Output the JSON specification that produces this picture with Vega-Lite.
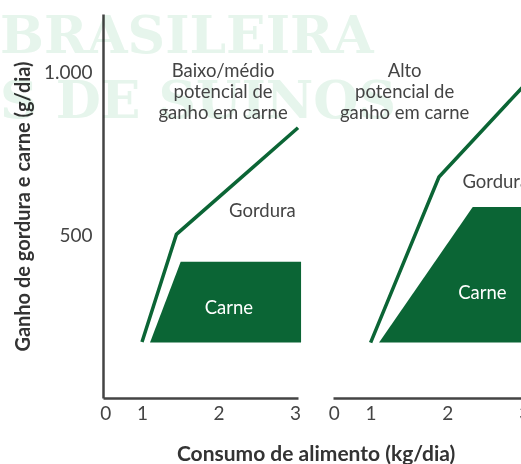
{
  "$schema": "https://vega.github.io/schema/vega-lite/v6.json",
  "padding": {"left": 0, "top": 11, "right": 0, "bottom": 0},
  "autosize": {"type": "pad"},
  "background": "white",
  "config": {
    "font": "Lato",
    "view": {"stroke": null},
    "axis": {
      "grid": false, "ticks": false, "domainColor": "#444", "domainWidth": 2.5,
      "labelColor": "#444", "labelFont": "Lato", "labelFontSize": 19,
      "titleFont": "Lato", "titleFontSize": 20, "titleFontWeight": "bold", "titleColor": "#333",
      "zindex": 1, "labelFlush": false
    }
  },
  "title": {"text": "Consumo de alimento (kg/dia)", "orient": "bottom", "anchor": "middle", "frame": "bounds", "dx": 49, "fontSize": 21, "fontWeight": "bold", "font": "Lato", "color": "#333", "offset": 21},
  "spacing": 35,
  "bounds": "flush",
  "datasets": {
    "marca_dagua": [
      {"x": -0.856, "y": 1058, "t": "BRASILEIRA"},
      {"x": -0.856, "y": 859, "t": "S DE SUINOS"}
    ],
    "linha_baixo": [
      {"x": 1.0, "y": 172},
      {"x": 1.45, "y": 502},
      {"x": 3.04, "y": 829}
    ],
    "carne_baixo": [
      {"x": 1.105, "y": 170},
      {"x": 1.506, "y": 418},
      {"x": 3.08, "y": 418}
    ],
    "linha_alto": [
      {"x": 1.0, "y": 170},
      {"x": 1.89, "y": 678},
      {"x": 3.04, "y": 969}
    ],
    "carne_alto": [
      {"x": 1.11, "y": 170},
      {"x": 2.33, "y": 586},
      {"x": 3.08, "y": 586}
    ],
    "texto_baixo": [
      {"x": 2.06, "y": 986, "t": "Baixo/médio"},
      {"x": 2.06, "y": 921, "t": "potencial de"},
      {"x": 2.06, "y": 855, "t": "ganho em carne"},
      {"x": 2.575, "y": 555, "t": "Gordura"}
    ],
    "texto_alto": [
      {"x": 1.443, "y": 986, "t": "Alto"},
      {"x": 1.443, "y": 921, "t": "potencial de"},
      {"x": 1.443, "y": 855, "t": "ganho em carne"},
      {"x": 2.63, "y": 645, "t": "Gordura"}
    ],
    "rotulo_carne_baixo": [{"x": 2.137, "y": 259, "t": "Carne"}],
    "rotulo_carne_alto": [{"x": 2.455, "y": 303, "t": "Carne"}]
  },
  "hconcat": [
    {
      "width": 195,
      "height": 384,
      "encoding": {
        "x": {"field": "x", "type": "quantitative", "scale": {"domain": [0.49, 3.04], "nice": false, "zero": false},
              "axis": {"values": [0.52, 1, 2, 3], "labelExpr": "datum.value < 0.9 ? '0' : format(datum.value, 'd')", "title": null, "labelPadding": 6}},
        "y": {"field": "y", "type": "quantitative", "scale": {"domain": [0, 1178], "nice": false},
              "axis": {"values": [500, 1000], "labelExpr": "replace(datum.label, ',', '.')", "title": "Ganho de gordura e carne (g/dia)", "labelPadding": 11, "titlePadding": 10}}
      },
      "layer": [
        {"data": {"name": "marca_dagua"}, "mark": {"type": "text", "align": "left", "baseline": "alphabetic", "font": "DejaVu Serif", "fontWeight": "bold", "fontSize": 52, "color": "#e6f5ec", "blend": "multiply"},
         "encoding": {"text": {"field": "t"}}},
        {"data": {"name": "carne_baixo"}, "mark": {"type": "area", "color": "#0b6535", "interpolate": "linear"},
         "encoding": {"y2": {"datum": 170}}},
        {"data": {"name": "linha_baixo"}, "mark": {"type": "line", "color": "#0b6535", "strokeWidth": 3.5}},
        {"data": {"name": "texto_baixo"}, "mark": {"type": "text", "align": "center", "baseline": "alphabetic", "fontSize": 18.5, "color": "#444", "font": "Lato"},
         "encoding": {"text": {"field": "t"}}},
        {"data": {"name": "rotulo_carne_baixo"}, "mark": {"type": "text", "align": "center", "baseline": "alphabetic", "fontSize": 18.5, "color": "white", "font": "Lato"},
         "encoding": {"text": {"field": "t"}}}
      ]
    },
    {
      "width": 195,
      "height": 384,
      "encoding": {
        "x": {"field": "x", "type": "quantitative", "scale": {"domain": [0.51, 3.05], "nice": false, "zero": false},
              "axis": {"values": [0.52, 1, 2, 3], "labelExpr": "datum.value < 0.9 ? '0' : format(datum.value, 'd')", "title": null, "labelPadding": 6}},
        "y": {"field": "y", "type": "quantitative", "scale": {"domain": [0, 1178], "nice": false}, "axis": null}
      },
      "layer": [
        {"data": {"name": "carne_alto"}, "mark": {"type": "area", "color": "#0b6535", "interpolate": "linear"},
         "encoding": {"y2": {"datum": 170}}},
        {"data": {"name": "linha_alto"}, "mark": {"type": "line", "color": "#0b6535", "strokeWidth": 3.5}},
        {"data": {"name": "texto_alto"}, "mark": {"type": "text", "align": "center", "baseline": "alphabetic", "fontSize": 18.5, "color": "#444", "font": "Lato"},
         "encoding": {"text": {"field": "t"}}},
        {"data": {"name": "rotulo_carne_alto"}, "mark": {"type": "text", "align": "center", "baseline": "alphabetic", "fontSize": 18.5, "color": "white", "font": "Lato"},
         "encoding": {"text": {"field": "t"}}}
      ]
    }
  ]
}
